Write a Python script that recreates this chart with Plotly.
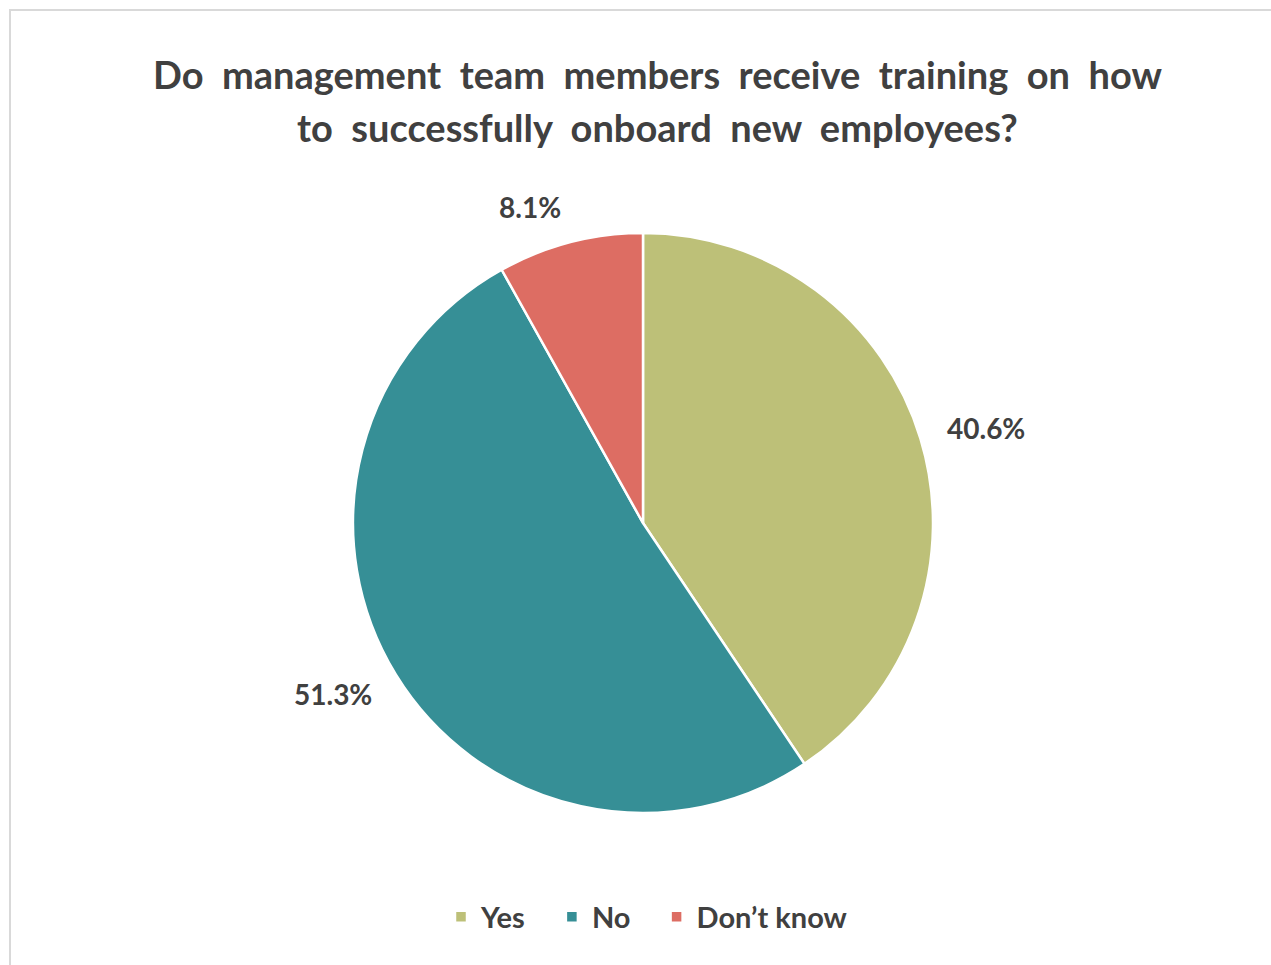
import math
import plotly.graph_objects as go

# Survey responses
categories = ["Yes", "No", "Don\u2019t know"]
shares = [40.6, 51.3, 8.1]
colors = ["#BDC078", "#368F96", "#DD6D63"]

title_lines = [
    "Do management team members receive training on how",
    "to successfully onboard new employees?",
]

W, H = 1271, 965
FONT = "Lato"
TEXT_COLOR = "#404040"

# Pie geometry in pixels
cx, cy, radius = 643, 523, 290

# Legend names padded so the entries sit further apart
pad = "\u00a0" * 3
legend_names = [n + pad for n in categories[:-1]] + [categories[-1]]

fig = go.Figure(
    go.Pie(
        labels=legend_names,
        values=shares,
        marker=dict(colors=colors, line=dict(color="white", width=2.5)),
        sort=False,
        direction="clockwise",
        rotation=0,
        textinfo="none",
        customdata=categories,
        hovertemplate="%{customdata}: %{percent}<extra></extra>",
        domain=dict(
            x=[(cx - radius) / W, (cx + radius) / W],
            y=[1 - (cy + radius) / H, 1 - (cy - radius) / H],
        ),
    )
)

# Percentage labels placed just outside each slice, at its mid-angle
annotations = []
total = sum(shares)
cum = 0.0
label_r = radius + 26
half_h = 11
for v in shares:
    mid = (cum + v / 2) / total * 2 * math.pi
    cum += v
    s, c = math.sin(mid), math.cos(mid)
    px = cx + label_r * s
    py = cy - (label_r + half_h) * c
    annotations.append(
        dict(
            x=px / W, y=1 - py / H, xref="paper", yref="paper",
            text=f"<b>{v:.1f}%</b>", showarrow=False,
            xanchor="left" if s > 0 else "right", yanchor="middle",
            font=dict(family=FONT, size=28, color=TEXT_COLOR),
        )
    )

# Two-line title with widened word spacing
for i, line in enumerate(title_lines):
    spaced = line.replace(" ", " \u00a0")
    annotations.append(
        dict(
            x=657 / W, y=1 - (74 + 53 * i) / H, xref="paper", yref="paper",
            text=f"<b>{spaced}</b>", showarrow=False,
            xanchor="center", yanchor="middle",
            font=dict(family=FONT, size=38, color=TEXT_COLOR),
        )
    )

fig.update_layout(
    width=W,
    height=H,
    margin=dict(l=0, r=0, t=0, b=0),
    paper_bgcolor="white",
    plot_bgcolor="white",
    showlegend=True,
    legend=dict(
        orientation="h",
        x=647 / W, xanchor="center",
        y=1 - 917 / H, yanchor="middle",
        font=dict(family=FONT, size=29, color=TEXT_COLOR, weight="bold"),
        itemwidth=30,
        traceorder="normal",
    ),
    annotations=annotations,
    shapes=[
        dict(
            type="rect", xref="paper", yref="paper",
            x0=10 / W, x1=1.02, y0=-0.02, y1=1 - 10 / H,
            line=dict(color="#D9D9D9", width=2),
            fillcolor="rgba(0,0,0,0)", layer="below",
        )
    ],
)

fig.write_html("out.html")
